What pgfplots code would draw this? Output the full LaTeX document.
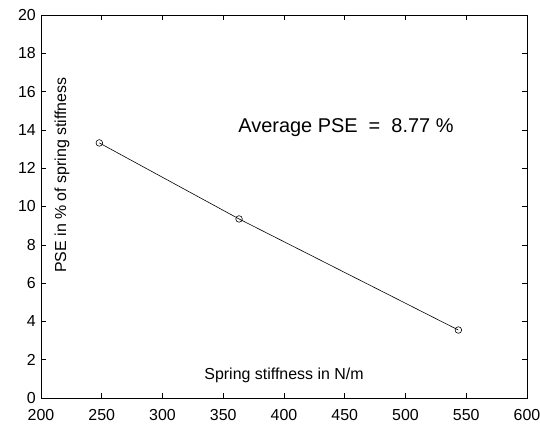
\documentclass[border=0pt]{standalone}
\usepackage{pgfplots}
\pgfplotsset{compat=1.18}
\usepackage{fontspec}
\setmainfont{Liberation Sans}

\begin{document}
\begin{tikzpicture}
\begin{axis}[
    scale only axis,
    width=486bp, height=383bp,
    xmin=200, xmax=600,
    ymin=0, ymax=20,
    xtick={200,250,...,600},
    ytick={0,2,...,20},
    tick align=inside,
    major tick length=5bp,
    tick style={black, line width=0.6bp},
    axis line style={line width=0.8bp},
    every tick label/.append style={inner sep=0pt},
    tick label style={font=\fontsize{16}{19}\selectfont},
    xticklabel style={yshift=-11bp},
    yticklabel style={xshift=-5bp},
    /pgf/number format/assume math mode=true,
    clip=false,
]
\addplot[black, line width=0.6bp, mark=o, mark size=3.3bp,
         mark options={line width=0.6bp}]
    coordinates {(248,13.32) (363,9.35) (543.5,3.55)};

\node[font=\fontsize{20}{24}\selectfont] at (axis cs:451,14.1)
    {Average PSE\ \ =\ \ 8.77 \%};
\node[font=\fontsize{16}{19}\selectfont] at (axis cs:400,1.2)
    {Spring stiffness in N/m};
\node[font=\fontsize{16}{19}\selectfont, rotate=90] at (axis cs:217.3,11.64)
    {PSE in \% of spring stiffness};
\end{axis}
\pgfresetboundingbox
\path ([shift={(-41bp,-28bp)}]current axis.south west)
    rectangle ([shift={(13bp,15bp)}]current axis.north east);
\end{tikzpicture}
\end{document}
